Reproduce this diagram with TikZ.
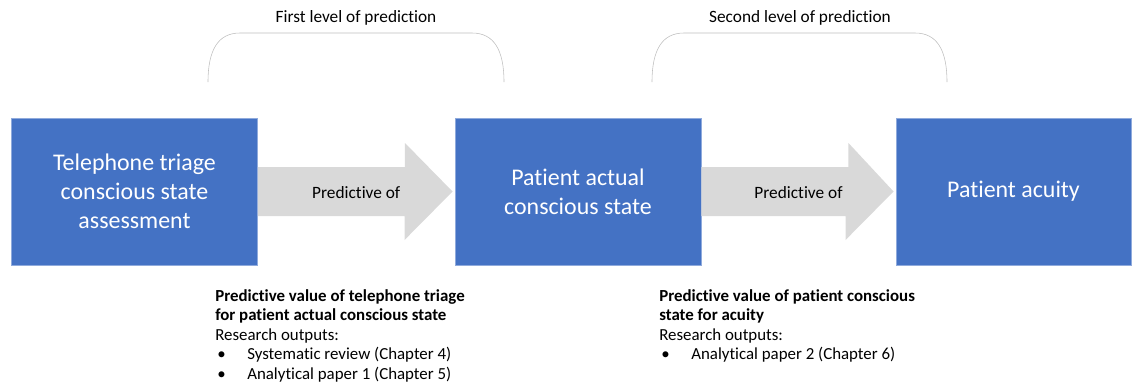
\documentclass[tikz,border=0pt]{standalone}
\usepackage{fontspec}
\setmainfont{Carlito}[Ligatures=NoCommon]
\usetikzlibrary{calc}

\definecolor{boxblue}{HTML}{4472C4}
\definecolor{boxedge}{HTML}{8FAADC}
\definecolor{arrowgray}{HTML}{D9D9D9}
\definecolor{bracegray}{HTML}{BFBFBF}

\newcommand{\itembul}[1]{\makebox[0.8cm][l]{\hspace{0.05cm}\textbullet}#1}

\begin{document}
\begin{tikzpicture}[x=0.025cm, y=-0.025cm,
    stage/.style={draw=boxedge, line width=0.6pt, fill=boxblue, text=white, align=center,
        minimum width=6.15cm, minimum height=3.675cm, inner sep=0pt,
        font=\fontsize{17}{20.6}\selectfont},
    linklabel/.style={font=\fontsize{12.3}{14}\selectfont},
    outcome/.style={anchor=north west, align=left, inner sep=0pt,
        font=\fontsize{12}{13.9}\selectfont}]
                \useasboundingbox (0, 0) rectangle (1133, 389);
                % the three stages
                \node [stage] (tel) at (134.5, 191.5) {Telephone triage\\conscious state\\assessment};
                \node [stage] (act) at (578, 191.5) {Patient actual\\conscious state};
                \node [stage, minimum width=5.875cm] (acu) at (1013.5, 191.5) {Patient acuity};
                % block arrows between them
                \fill [arrowgray] ($(tel.east)+(0, -24.5)$) -- ++(147, 0) -- ++(0, -24) -- ($(act.west)+(-2, 0)$)
                    -- ++(-48, 48.5) -- ++(0, -24) -- ($(tel.east)+(0, 24.5)$) -- cycle;
                \fill [arrowgray] ($(act.east)+(0, -24.5)$) -- ++(147, 0) -- ++(0, -24) -- ($(acu.west)+(-2, 0)$)
                    -- ++(-48, 48.5) -- ++(0, -24) -- ($(act.east)+(0, 24.5)$) -- cycle;
                \node [linklabel] (pred1) at ($(tel.east)!0.5!(act.west)+(0, 1)$) {Predictive of};
                \node [linklabel] (pred2) at ($(act.east)!0.5!(acu.west)+(0, 1)$) {Predictive of};
                % levels of prediction
                \draw [bracegray] (208, 82) .. controls (208, 50) and (218, 33) .. (240, 33) -- (472, 33)
                    .. controls (494, 33) and (504, 50) .. (504, 82);
                \draw [bracegray] (652, 82) .. controls (652, 50) and (662, 33) .. (684, 33) -- (915, 33)
                    .. controls (937, 33) and (947, 50) .. (947, 82);
                \node [linklabel] (lev1) at (356, 18) {First level of prediction};
                \node [linklabel] (lev2) at (800, 18) {Second level of prediction};
                % research outputs
                \node [outcome] (out1) at (215, 289) {\textbf{Predictive value of telephone triage}\\
                    \textbf{for patient actual conscious state}\\Research outputs:\\
                    \itembul{Systematic review (Chapter 4)}\\\itembul{Analytical paper 1 (Chapter 5)}};
                \node [outcome] (out2) at (659, 289) {\textbf{Predictive value of patient conscious}\\
                    \textbf{state for acuity}\\Research outputs:\\
                    \itembul{Analytical paper 2 (Chapter 6)}};
\end{tikzpicture}
\end{document}
